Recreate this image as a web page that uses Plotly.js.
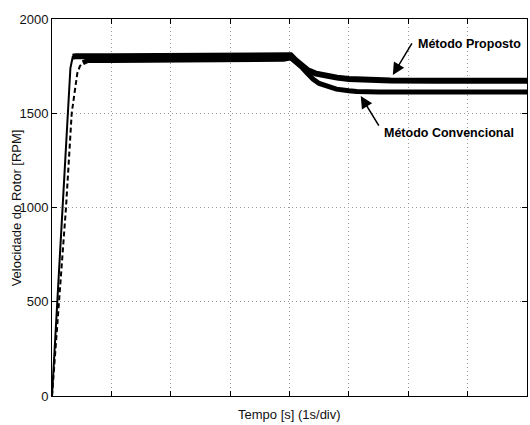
<!DOCTYPE html>
<html>
<head>
<meta charset="utf-8">
<script src="https://cdn.plot.ly/plotly-3.0.1.min.js"></script>
<style>html,body{margin:0;padding:0;background:#fff;}#chart{width:530px;height:425px;}</style>
</head>
<body>
<div id="chart"></div>
<script>
// Time in seconds (1 s per division), speed in RPM
const tProposto = [0, 0.1, 0.18, 0.264, 0.31, 0.35, 0.4, 1, 2, 3, 3.6, 3.9, 4.02, 4.1, 4.2, 4.3, 4.45, 4.6, 4.8, 5.0, 5.3, 5.7, 6.5, 8];
const rpmProposto = [0, 560, 1000, 1500, 1740, 1800, 1803, 1802, 1802, 1802, 1802, 1805, 1808, 1782, 1754, 1730, 1710, 1698, 1689, 1682, 1677, 1674, 1672, 1672];

const tConvencional = [0, 0.1, 0.19, 0.236, 0.332, 0.375, 0.426, 0.47, 0.52, 0.6, 1, 2, 3, 3.6, 3.9, 4.02, 4.1, 4.2, 4.3, 4.4, 4.5, 4.62, 4.79, 5.0, 5.13, 5.5, 6.5, 8];
const rpmConvencional = [0, 420, 792, 1000, 1500, 1588, 1712, 1750, 1768, 1780, 1780, 1780, 1780, 1780, 1786, 1794, 1776, 1746, 1712, 1680, 1658, 1644, 1628, 1619, 1615, 1613, 1613, 1613];

const yTicks = [0, 500, 1000, 1500, 2000];
const labelProposto = 'Método Proposto';
const labelConvencional = 'Método Convencional';

const riseP = 6;   // index where proposto reaches steady band
const riseC = 9;   // index where convencional reaches steady band

const traces = [
  {x: tProposto.slice(0, riseP + 1), y: rpmProposto.slice(0, riseP + 1), mode: 'lines',
   line: {color: '#000', width: 2}, hoverinfo: 'skip'},
  {x: tProposto.slice(riseP - 1), y: rpmProposto.slice(riseP - 1), mode: 'lines',
   line: {color: '#000', width: 6}, hoverinfo: 'skip'},
  {x: tConvencional.slice(0, riseC + 1), y: rpmConvencional.slice(0, riseC + 1), mode: 'lines',
   line: {color: '#000', width: 2, dash: '5px,3px'}, hoverinfo: 'skip'},
  {x: tConvencional.slice(riseC - 1), y: rpmConvencional.slice(riseC - 1), mode: 'lines',
   line: {color: '#000', width: 5}, hoverinfo: 'skip'}
];

const font = 'Liberation Sans, Arial, Helvetica, sans-serif';

const layout = {
  width: 530, height: 425,
  margin: {l: 52, r: 3, t: 19, b: 29},
  paper_bgcolor: '#fff', plot_bgcolor: '#fff',
  showlegend: false,
  font: {family: font, size: 13, color: '#111'},
  xaxis: {
    range: [0, 8], dtick: 1, tick0: 0, showticklabels: false,
    ticks: 'inside', ticklen: 5, tickcolor: '#000', mirror: 'allticks',
    showline: true, linecolor: '#000', linewidth: 1,
    showgrid: true, gridcolor: '#999', griddash: '1px,3px', gridwidth: 1, zeroline: false
  },
  yaxis: {
    range: [0, 2000], tickvals: yTicks, ticktext: yTicks.map(String),
    ticks: 'inside', ticklen: 5, tickcolor: '#000', mirror: 'allticks',
    showline: true, linecolor: '#000', linewidth: 1,
    showgrid: true, gridcolor: '#999', griddash: '1px,3px', gridwidth: 1, zeroline: false,
    tickfont: {size: 13, color: '#111'}
  },
  annotations: [
    {xref: 'paper', yref: 'paper', x: 0.5, y: -0.05, yanchor: 'middle', xanchor: 'center',
     text: 'Tempo [s] (1s/div)', showarrow: false, font: {size: 13, color: '#111'}},
    {xref: 'paper', yref: 'paper', x: -0.074, y: 0.5, xanchor: 'center', yanchor: 'middle',
     text: 'Velocidade do Rotor [RPM]', textangle: -90, showarrow: false, font: {size: 13, color: '#111'}},
    {x: 5.74, y: 1703, ax: 20, ay: -33, text: '', showarrow: true,
     arrowhead: 2, arrowsize: 1.6, arrowwidth: 1.5, arrowcolor: '#000'},
    {x: 5.2, y: 1591, ax: 19, ay: 31, text: '', showarrow: true,
     arrowhead: 2, arrowsize: 1.6, arrowwidth: 1.5, arrowcolor: '#000'},
    {x: 6.13, y: 1867, xanchor: 'left', yanchor: 'middle', text: '<b>' + labelProposto + '</b>',
     showarrow: false, font: {size: 12.5, color: '#000'}},
    {x: 5.56, y: 1397, xanchor: 'left', yanchor: 'middle', text: '<b>' + labelConvencional + '</b>',
     showarrow: false, font: {size: 12.5, color: '#000'}}
  ]
};

Plotly.newPlot('chart', traces, layout, {displayModeBar: false, staticPlot: true});
</script>
</body>
</html>
